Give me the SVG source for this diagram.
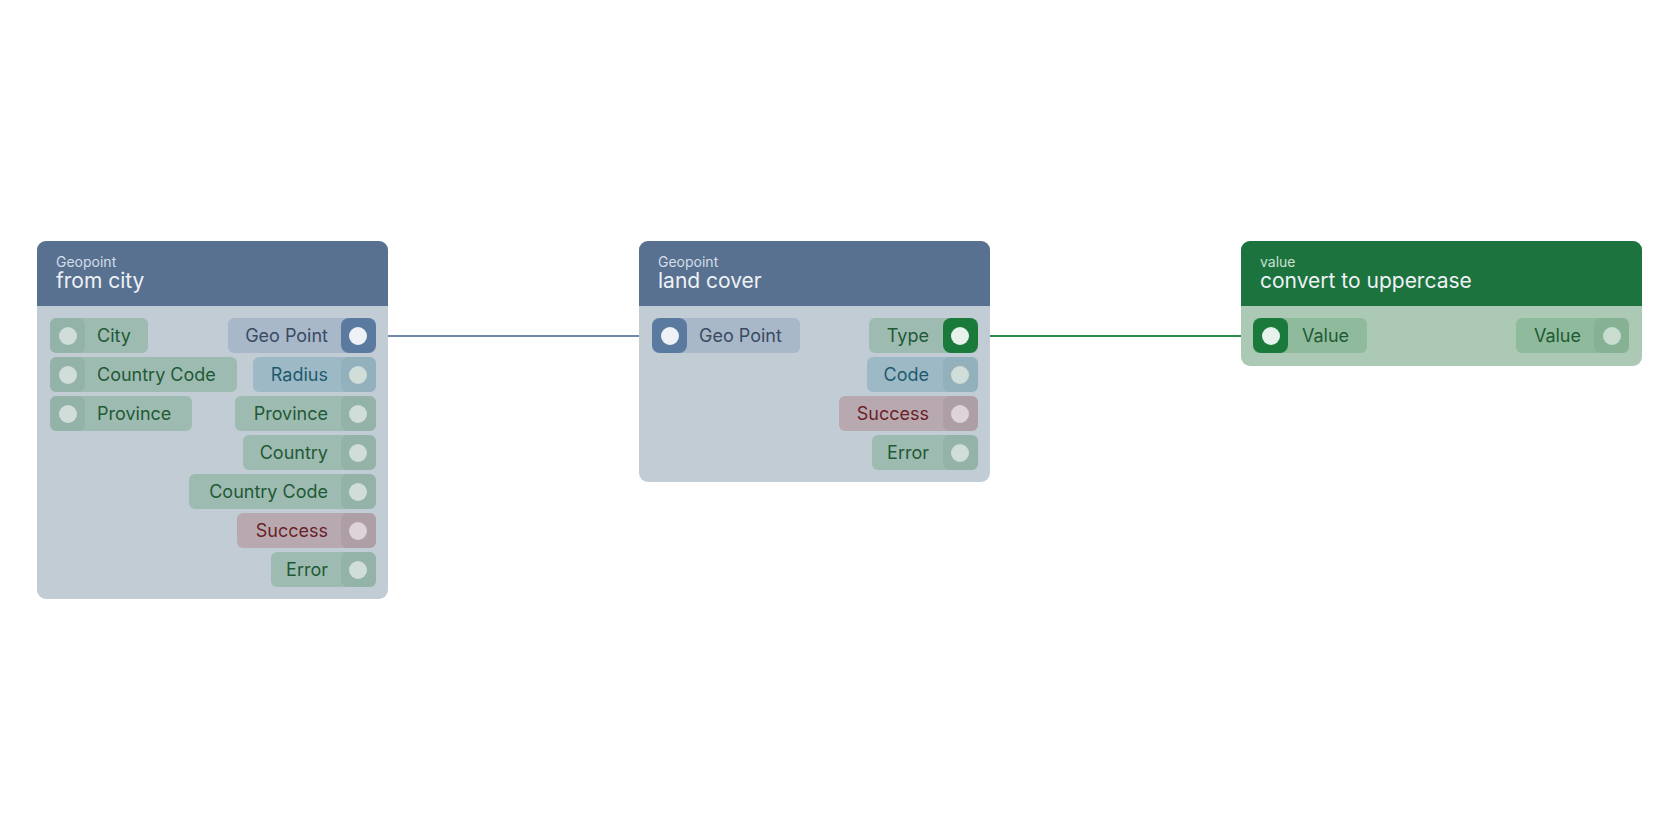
<svg xmlns="http://www.w3.org/2000/svg" width="1680" height="840" viewBox="0 0 1680 840">
<style>
text{font-family:Inter,"Noto Sans",sans-serif}
.sub{font-size:14px;fill:#d4dde8}
.ttl{font-size:21px;fill:#eef2f6}
.lbl{font-size:18px}
.g{fill:#9ebbb2}.gp{fill:#93b2a8}.gt{fill:#1e5a35}
.b{fill:#9db9c6}.bp{fill:#93b0bd}.bt{fill:#1e5a6e}
.r{fill:#b8a9b0}.rp{fill:#ae9fa6}.rt{fill:#6b1f28}
.s{fill:#a9b8c9}.st{fill:#3a4a63}
.dot{fill:#d0ddd8}.rdot{fill:#ddd3d8}.on{fill:#eef2f6}
</style>
<rect width="1680" height="840" fill="#fff"/>
<g id="connectors" fill="none" stroke-width="2">
<line x1="376" y1="336" x2="652" y2="336" stroke="#7089a8"/>
<line x1="978" y1="336" x2="1253" y2="336" stroke="#2e8b4e"/>
</g>
<g id="node-from-city">
<rect x="37" y="241" width="351" height="358" rx="9" fill="#c2ccd5"/>
<path d="M37 306V250a9 9 0 0 1 9-9h333a9 9 0 0 1 9 9v56z" fill="#587190"/>
<text x="56" y="267" class="sub">Geopoint</text>
<text x="56" y="288" class="ttl">from city</text>
<rect x="50" y="318" width="98" height="35" rx="6" class="g"/><rect x="50" y="318" width="35" height="35" rx="7" class="gp"/><circle cx="68" cy="336" r="9" class="dot"/><text x="97" y="342" class="lbl gt">City</text>
<rect x="50" y="357" width="187" height="35" rx="6" class="g"/><rect x="50" y="357" width="35" height="35" rx="7" class="gp"/><circle cx="68" cy="375" r="9" class="dot"/><text x="97" y="381" class="lbl gt">Country Code</text>
<rect x="50" y="396" width="142" height="35" rx="6" class="g"/><rect x="50" y="396" width="35" height="35" rx="7" class="gp"/><circle cx="68" cy="414" r="9" class="dot"/><text x="97" y="420" class="lbl gt">Province</text>
<g text-anchor="end">
<rect x="228" y="318" width="148" height="35" rx="6" class="s"/><rect x="341" y="318" width="35" height="35" rx="8" fill="#5b7aa0"/><circle cx="358" cy="336" r="9" class="on"/><text x="328" y="342" class="lbl st">Geo Point</text>
<rect x="253" y="357" width="123" height="35" rx="6" class="b"/><rect x="341" y="357" width="35" height="35" rx="7" class="bp"/><circle cx="358" cy="375" r="9" class="dot"/><text x="328" y="381" class="lbl bt">Radius</text>
<rect x="235" y="396" width="141" height="35" rx="6" class="g"/><rect x="341" y="396" width="35" height="35" rx="7" class="gp"/><circle cx="358" cy="414" r="9" class="dot"/><text x="328" y="420" class="lbl gt">Province</text>
<rect x="243" y="435" width="133" height="35" rx="6" class="g"/><rect x="341" y="435" width="35" height="35" rx="7" class="gp"/><circle cx="358" cy="453" r="9" class="dot"/><text x="328" y="459" class="lbl gt">Country</text>
<rect x="189" y="474" width="187" height="35" rx="6" class="g"/><rect x="341" y="474" width="35" height="35" rx="7" class="gp"/><circle cx="358" cy="492" r="9" class="dot"/><text x="328" y="498" class="lbl gt">Country Code</text>
<rect x="237" y="513" width="139" height="35" rx="6" class="r"/><rect x="341" y="513" width="35" height="35" rx="7" class="rp"/><circle cx="358" cy="531" r="9" class="rdot"/><text x="328" y="537" class="lbl rt">Success</text>
<rect x="271" y="552" width="105" height="35" rx="6" class="g"/><rect x="341" y="552" width="35" height="35" rx="7" class="gp"/><circle cx="358" cy="570" r="9" class="dot"/><text x="328" y="576" class="lbl gt">Error</text>
</g>
</g>
<g id="node-land-cover">
<rect x="639" y="241" width="351" height="241" rx="9" fill="#c2ccd5"/>
<path d="M639 306V250a9 9 0 0 1 9-9h333a9 9 0 0 1 9 9v56z" fill="#587190"/>
<text x="658" y="267" class="sub">Geopoint</text>
<text x="658" y="288" class="ttl">land cover</text>
<rect x="652" y="318" width="148" height="35" rx="6" class="s"/><rect x="652" y="318" width="35" height="35" rx="8" fill="#5b7aa0"/><circle cx="670" cy="336" r="9" class="on"/><text x="699" y="342" class="lbl st">Geo Point</text>
<g text-anchor="end">
<rect x="869" y="318" width="109" height="35" rx="6" class="g"/><rect x="943" y="318" width="35" height="35" rx="8" fill="#1a7a3c"/><circle cx="960" cy="336" r="9" fill="#e8f2ec"/><text x="929" y="342" class="lbl gt">Type</text>
<rect x="867" y="357" width="111" height="35" rx="6" class="b"/><rect x="943" y="357" width="35" height="35" rx="7" class="bp"/><circle cx="960" cy="375" r="9" class="dot"/><text x="929" y="381" class="lbl bt">Code</text>
<rect x="839" y="396" width="139" height="35" rx="6" class="r"/><rect x="943" y="396" width="35" height="35" rx="7" class="rp"/><circle cx="960" cy="414" r="9" class="rdot"/><text x="929" y="420" class="lbl rt">Success</text>
<rect x="872" y="435" width="106" height="35" rx="6" class="g"/><rect x="943" y="435" width="35" height="35" rx="7" class="gp"/><circle cx="960" cy="453" r="9" class="dot"/><text x="929" y="459" class="lbl gt">Error</text>
</g>
</g>
<g id="node-convert-to-uppercase">
<rect x="1241" y="241" width="401" height="125" rx="9" fill="#acc9b6"/>
<path d="M1241 306V250a9 9 0 0 1 9-9h383a9 9 0 0 1 9 9v56z" fill="#1c733d"/>
<text x="1260" y="267" class="sub" style="fill:#c9e0d0">value</text>
<text x="1260" y="288" class="ttl">convert to uppercase</text>
<rect x="1253" y="318" width="114" height="35" rx="6" fill="#8fbb9c"/><rect x="1253" y="318" width="35" height="35" rx="8" fill="#1a7a3c"/><circle cx="1271" cy="336" r="9" fill="#e8f2ec"/><text x="1302" y="342" class="lbl gt">Value</text>
<rect x="1516" y="318" width="113" height="35" rx="6" fill="#8fbb9c"/><rect x="1594" y="318" width="35" height="35" rx="7" fill="#86b293"/><circle cx="1612" cy="336" r="9" fill="#c8ddcf"/><text x="1581" y="342" text-anchor="end" class="lbl gt">Value</text>
</g>
</svg>
